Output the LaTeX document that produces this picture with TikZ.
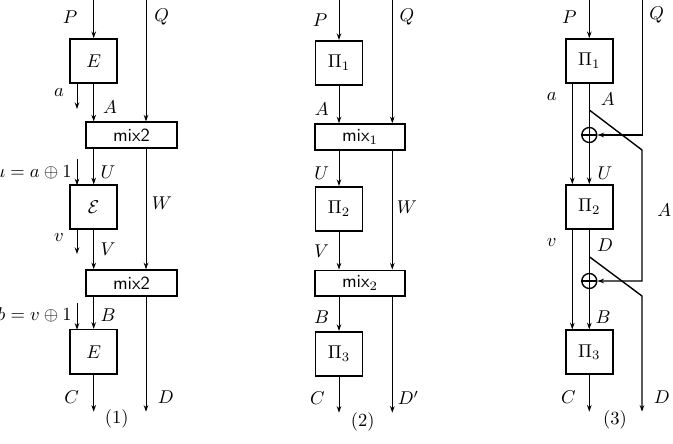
\documentclass[tikz,border=0pt]{standalone}
\usetikzlibrary{arrows.meta,calc}
\begin{document}
\begin{tikzpicture}[x=0.54pt,y=-0.54pt,
 box/.style={draw,line width=0.85pt,minimum width=25.4pt,minimum height=23.8pt,inner sep=0pt},
 mixbox/.style={draw,line width=0.85pt,minimum width=48.9pt,minimum height=14pt,inner sep=0pt,font=\sffamily},
 arr/.style={line width=0.52pt,-{Stealth[length=3.6pt,width=2.5pt]}},
 ln/.style={line width=0.52pt},
 thk/.style={line width=0.75pt},
 tip/.style={-{Stealth[length=3.6pt,width=2.5pt]}},
 lab/.style={inner sep=0pt},
 xorc/.style={draw,circle,line width=0.75pt,minimum size=8.1pt,inner sep=0pt}]
\useasboundingbox (0,0) rectangle (673,444);

% ---------- panel 1 ----------
\node[box] (E1) at (93.7,61) {$E$};
\node[mixbox] (M1) at (131.5,135.2) {mix2};
\node[box] (E2) at (93.7,207.2) {$\mathcal{E}$};
\node[mixbox] (M2) at (131.5,283) {mix2};
\node[box] (E3) at (93.7,351.7) {$E$};
\coordinate (P1) at (93.7,0);
\coordinate (Q1) at (146,0);
\coordinate (a1s) at (77,83);
\coordinate (a1e) at (77,109);
\coordinate (u1s) at (77,159);
\coordinate (u1e) at (77,185.2);
\coordinate (v1s) at (77,229.2);
\coordinate (v1e) at (77,254);
\coordinate (b1s) at (77,303);
\coordinate (b1e) at (77,329.7);
\coordinate (C1) at (93.7,411.7);
\coordinate (D1) at (146,411.7);

\draw[arr] (P1) -- (E1);
\draw[arr] (a1s) -- (a1e);
\draw[arr] (E1) -- (E1 |- M1.north);
\draw[arr] (Q1) -- (Q1 |- M1.north);
\draw[arr] (M1.south -| E1) -- (E2);
\draw[arr] (u1s) -- (u1e);
\draw[arr] (M1.south -| Q1) -- (M2.north -| Q1);
\draw[arr] (E2) -- (E2 |- M2.north);
\draw[arr] (v1s) -- (v1e);
\draw[arr] (M2.south -| E1) -- (E3);
\draw[arr] (b1s) -- (b1e);
\draw[arr] (E3) -- (C1);
\draw[arr] (M2.south -| Q1) -- (D1);

\node[lab] (lP1) at (70,17) {$P$};
\node[lab] (lQ1) at (161.7,17) {$Q$};
\node[lab] (la1) at (59,93) {$a$};
\node[lab] (lA1) at (110,107) {$A$};
\node[lab,anchor=east] (lu1) at (72,172) {$u=a\oplus 1$};
\node[lab] (lU1) at (108,172) {$U$};
\node[lab] (lW1) at (162,203) {$W$};
\node[lab] (lv1) at (59,238) {$v$};
\node[lab] (lV1) at (108,249) {$V$};
\node[lab,anchor=east] (lb1) at (72,315) {$b=v\oplus 1$};
\node[lab] (lB1) at (108,315) {$B$};
\node[lab] (lC1) at (71.7,397) {$C$};
\node[lab] (lD1) at (165.7,397) {$D$};
\node[lab] (n1) at (116.7,419) {(1)};

% ---------- panel 2 ----------
\node[box] (F1) at (339,62.8) {$\Pi_1$};
\node[mixbox] (N1) at (360,137) {mix$_1$};
\node[box] (F2) at (339,208.8) {$\Pi_2$};
\node[mixbox] (N2) at (360,283.3) {mix$_2$};
\node[box] (F3) at (339,353.8) {$\Pi_3$};
\coordinate (P2) at (339,0);
\coordinate (Q2) at (392.3,0);
\coordinate (C2) at (339,412.7);
\coordinate (D2) at (392.3,412.7);

\draw[arr] (P2) -- (F1);
\draw[arr] (F1) -- (F1 |- N1.north);
\draw[arr] (Q2) -- (Q2 |- N1.north);
\draw[arr] (N1.south -| F1) -- (F2);
\draw[arr] (N1.south -| Q2) -- (N2.north -| Q2);
\draw[arr] (F2) -- (F2 |- N2.north);
\draw[arr] (N2.south -| F1) -- (F3);
\draw[arr] (F3) -- (C2);
\draw[arr] (N2.south -| Q2) -- (D2);

\node[lab] (lP2) at (320,20) {$P$};
\node[lab] (lQ2) at (407,17) {$Q$};
\node[lab] (lA2) at (321.7,109) {$A$};
\node[lab] (lU2) at (321.7,173) {$U$};
\node[lab] (lW2) at (407,207) {$W$};
\node[lab] (lV2) at (321.7,251) {$V$};
\node[lab] (lB2) at (321.7,317) {$B$};
\node[lab] (lC2) at (317.3,398) {$C$};
\node[lab] (lD2) at (408.3,398) {$D'$};
\node[lab] (n2) at (362.7,421.7) {(2)};

% ---------- panel 3 ----------
\node[box] (G1) at (589.3,61) {$\Pi_1$};
\node[box] (G2) at (589.3,207) {$\Pi_2$};
\node[box] (G3) at (589.3,352.2) {$\Pi_3$};
\node[xorc] (X1) at (589.3,135) {};
\node[xorc] (X2) at (589.3,281) {};
\draw[thk] (X1.north) -- (X1.south) (X1.west) -- (X1.east);
\draw[thk] (X2.north) -- (X2.south) (X2.west) -- (X2.east);
\coordinate (P3) at (589.3,0);
\coordinate (Q3) at (642.5,0);
\coordinate (Q3c) at (642.5,135);
\coordinate (a3) at (572.3,0);
\coordinate (d1s) at (589.3,110);
\coordinate (d1e) at (642,150);
\coordinate (d1c) at (642,281);
\coordinate (d2s) at (589.3,256.7);
\coordinate (d2e) at (642,296);
\coordinate (D3) at (642,411.7);
\coordinate (C3) at (589.3,411.7);

\draw[arr] (P3) -- (G1);
\draw[ln] (G1) -- (X1);
\draw[arr] (X1) -- (G2);
\draw[arr] (G1.south -| a3) -- (G2.north -| a3);
\draw[thk,tip] (Q3) -- (Q3c) -- (X1);
\draw[thk,tip] (d1s) -- (d1e) -- (d1c) -- (X2);
\draw[ln] (G2) -- (X2);
\draw[arr] (X2) -- (G3);
\draw[arr] (G2.south -| a3) -- (G3.north -| a3);
\draw[thk,tip] (d2s) -- (d2e) -- (D3);
\draw[arr] (G3) -- (C3);

\node[lab] (lP3) at (569.3,17) {$P$};
\node[lab] (lQ3) at (656.7,15) {$Q$};
\node[lab] (la3) at (551.7,97) {$a$};
\node[lab] (lA3) at (607.7,99) {$A$};
\node[lab] (lU3) at (605,173) {$U$};
\node[lab] (lA3b) at (664.3,210) {$A$};
\node[lab] (lv3) at (551.7,243) {$v$};
\node[lab] (lD3) at (605,245) {$D$};
\node[lab] (lB3) at (603,317) {$B$};
\node[lab] (lC3) at (568.3,397) {$C$};
\node[lab] (lD3b) at (661.7,397) {$D$};
\node[lab] (n3) at (615,420) {(3)};
\end{tikzpicture}
\end{document}
